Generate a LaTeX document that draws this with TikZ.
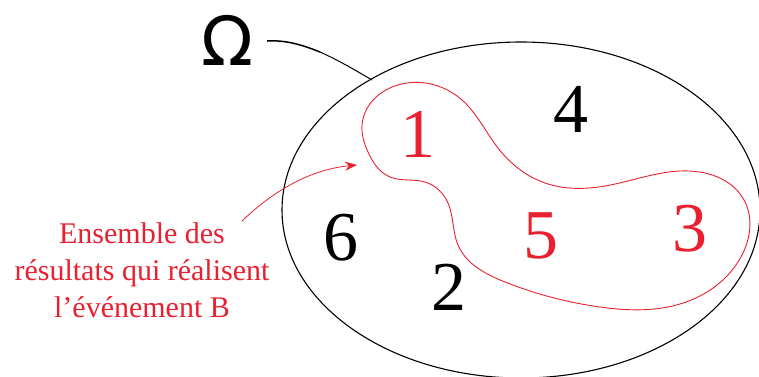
\documentclass[tikz,border=0pt]{standalone}
\usepackage{fontspec}
\setmainfont{Liberation Serif}
\newfontfamily\omegafont{DejaVu Sans}
\usetikzlibrary{arrows.meta,hobby}
\definecolor{evred}{RGB}{232,32,48}
\begin{document}
\begin{tikzpicture}[x=1pt,y=-1pt,
  digit/.style={font=\fontsize{70}{70}\selectfont, inner sep=0pt},
  reddigit/.style={digit, text=evred},
  blackdigit/.style={digit, text=black}]
\useasboundingbox (0,0) rectangle (759,376);
% universe
\draw[line width=1.1pt] (521,210) ellipse [x radius=239pt, y radius=168pt];
% event B
\draw[evred, line width=0.9pt, use Hobby shortcut, closed=true]
 (362,125) .. (407,83) .. (462,100) .. (498,148) .. (545,183) .. (605,186)
 .. (680,171) .. (744,200) .. (742,255) .. (680,304) .. (600,307) .. (505,282)
 .. (458,245) .. (448,203) .. (425,182) .. (390,177) .. (368,152);
% digits
\node[reddigit] (n1) at (418,134) {1};
\node[blackdigit] (n4) at (571,109) {4};
\node[blackdigit] (n6) at (341,238) {6};
\node[blackdigit] (n2) at (449,287) {2};
\node[reddigit] (n5) at (541,236) {5};
\node[reddigit] (n3) at (690,229) {3};
% Omega
\node[font=\omegafont\fontsize{68}{68}\selectfont, inner sep=0pt] (om) at (227,40) {Ω};
\coordinate (omStart) at (267,41);
\coordinate (omEnd) at (372,80);
\draw[line width=1.5pt] (omStart) .. controls (285,40) and (300,44) .. (320,52);
\draw[line width=1.0pt] (320,52) .. controls (338,60) and (355,70) .. (omEnd);
% label
\node[text=evred, align=center, font=\fontsize{30}{37}\selectfont, inner sep=0pt] (lbl) at (142,270)
  {Ensemble des\\résultats qui réalisent\\l’événement B};
\coordinate (lblStart) at (242,221);
\coordinate (arrTip) at (357,165);
\draw[evred, line width=0.8pt, -{Stealth[length=12pt,width=9pt]}] (lblStart) .. controls (268,196) and (305,170) .. (arrTip);
\end{tikzpicture}
\end{document}
